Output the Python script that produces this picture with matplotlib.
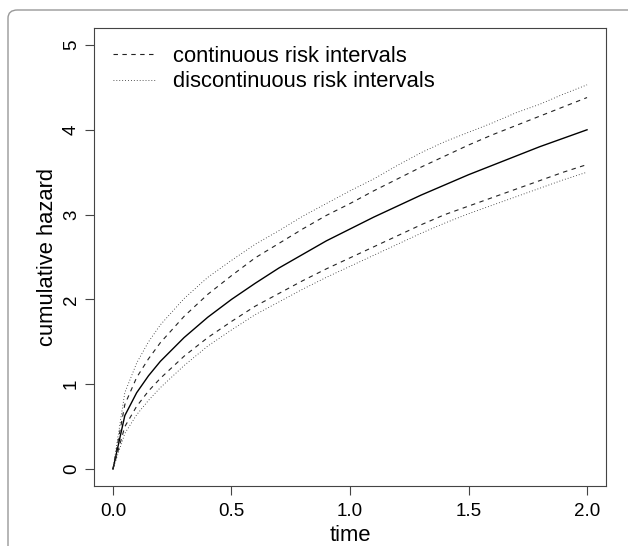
import matplotlib
matplotlib.use("Agg")
import matplotlib.pyplot as plt
from matplotlib.patches import FancyBboxPatch

plt.rcParams['font.family'] = ['Liberation Sans', 'DejaVu Sans']

# values
time = [0.0, 0.05, 0.1, 0.15, 0.2, 0.3, 0.4, 0.5, 0.6, 0.7, 0.8, 0.9, 1.0,
        1.1, 1.2, 1.3, 1.4, 1.5, 1.6, 1.7, 1.8, 1.9, 2.0]
hazard = [0.0, 0.63, 0.90, 1.10, 1.27, 1.55, 1.79, 2.00, 2.19, 2.37, 2.53, 2.69, 2.83,
          2.97, 3.10, 3.23, 3.35, 3.47, 3.58, 3.69, 3.80, 3.90, 4.00]
cont_upper = [0.0, 0.76, 1.08, 1.30, 1.49, 1.80, 2.06, 2.28, 2.49, 2.66, 2.83, 2.99, 3.13,
              3.28, 3.42, 3.56, 3.69, 3.82, 3.94, 4.05, 4.16, 4.27, 4.38]
cont_lower = [0.0, 0.50, 0.74, 0.92, 1.07, 1.33, 1.55, 1.74, 1.92, 2.07, 2.22, 2.36, 2.49,
              2.62, 2.75, 2.88, 3.00, 3.10, 3.20, 3.30, 3.40, 3.50, 3.59]
disc_upper = [0.0, 0.90, 1.25, 1.50, 1.70, 2.01, 2.26, 2.46, 2.65, 2.81, 2.98, 3.13, 3.28,
              3.42, 3.58, 3.73, 3.86, 3.97, 4.08, 4.20, 4.30, 4.42, 4.53]
disc_lower = [0.0, 0.42, 0.64, 0.81, 0.96, 1.22, 1.45, 1.64, 1.82, 1.97, 2.12, 2.26, 2.39,
              2.52, 2.65, 2.78, 2.90, 3.01, 3.11, 3.21, 3.31, 3.41, 3.50]

xticks = [0.0, 0.5, 1.0, 1.5, 2.0]
xtick_labels = ['0.0', '0.5', '1.0', '1.5', '2.0']
yticks = [0, 1, 2, 3, 4, 5]

W, H = 628, 546
fig = plt.figure(figsize=(W / 100, H / 100), dpi=100)

# light grey rounded frame around the figure
frame = FancyBboxPatch((8 / W, -0.1), 1.2, 1.1 - 10 / H,
                       boxstyle="round,pad=0,rounding_size=0.015",
                       transform=fig.transFigure, fill=False,
                       edgecolor='#999999', linewidth=1.0)
fig.patches.append(frame)

ax = fig.add_axes([94 / W, 1 - 486 / H, (606 - 94) / W, (486 - 28) / H])

dark = '#222222'
ax.plot(time, hazard, color='black', linewidth=1.0)
ax.plot(time, cont_upper, color=dark, linewidth=0.8, dashes=(4, 4),
        label='continuous risk intervals')
ax.plot(time, cont_lower, color=dark, linewidth=0.8, dashes=(4, 4))
ax.plot(time, disc_upper, color=dark, linewidth=0.6, dashes=(1, 2.5),
        label='discontinuous risk intervals')
ax.plot(time, disc_lower, color=dark, linewidth=0.6, dashes=(1, 2.5))

ax.set_xlim(-0.08, 2.08)
ax.set_ylim(-0.2, 5.2)
ax.set_xticks(xticks)
ax.set_xticklabels(xtick_labels)
ax.set_yticks(yticks)

for side in ax.spines.values():
    side.set_color('#444444')
    side.set_linewidth(0.8)
ax.tick_params(direction='out', length=6.5, width=0.8, color='#444444',
               labelsize=13.5, pad=5.5)
ax.tick_params(axis='y', labelrotation=90, pad=3.5)
for lab in ax.get_yticklabels():
    lab.set_va('center')

ax.set_xlabel('time', fontsize=15.8, labelpad=4)
ax.set_ylabel('cumulative hazard', fontsize=15.8, labelpad=4)

ax.legend(loc='upper left', frameon=False, fontsize=15.8,
          handlelength=1.9, handletextpad=0.85, labelspacing=0.2,
          borderaxespad=0.0, bbox_to_anchor=(0.02, 0.98))

fig.savefig('out.png', dpi=100)
